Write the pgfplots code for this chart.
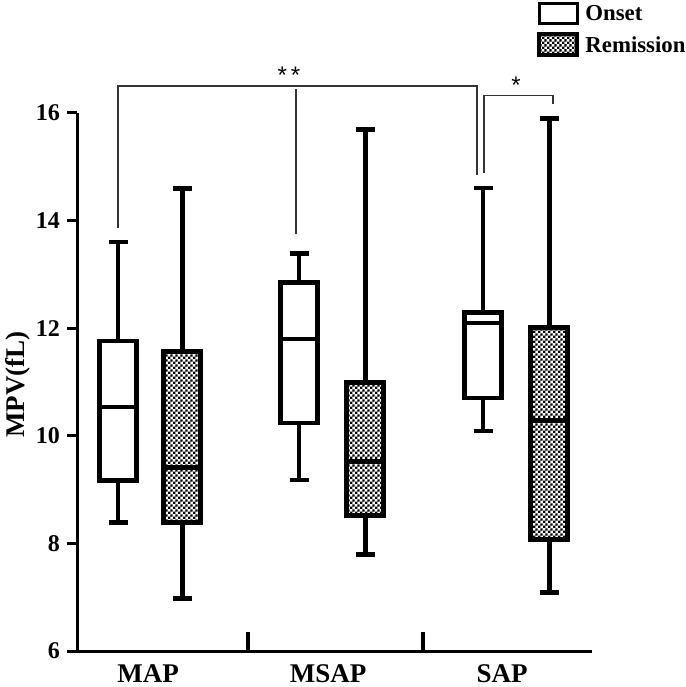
\documentclass[border=0pt]{standalone}
\usepackage{fontspec}
\setmainfont{Liberation Serif}
\newfontfamily\sansf{Liberation Sans}
\usepackage{pgfplots}
\pgfplotsset{compat=1.18}
\usepgfplotslibrary{statistics}
\usetikzlibrary{patterns}
\pgfdeclarepatternformonly{checker}{\pgfqpoint{0pt}{0pt}}{\pgfqpoint{2.4pt}{2.4pt}}{\pgfqpoint{2.4pt}{2.4pt}}{%
  \pgfpathrectangle{\pgfqpoint{0pt}{0pt}}{\pgfqpoint{1.2pt}{1.2pt}}%
  \pgfpathrectangle{\pgfqpoint{1.2pt}{1.2pt}}{\pgfqpoint{1.2pt}{1.2pt}}%
  \pgfusepath{fill}}
\pgfplotsset{
  onset/.style={solid, draw=black, line width=2.1pt, fill=white, mark=none, line cap=butt},
  remis/.style={solid, draw=black, line width=2.5pt, pattern=checker, mark=none, line cap=butt},
}
\begin{document}
\begin{tikzpicture}
\begin{axis}[
  scale only axis, width=257.5pt, height=269pt,
  xmin=77, xmax=592, ymin=6, ymax=16,
  axis x line=bottom, axis y line=left,
  axis line style={-, line width=1.5pt},
  clip=false,
  ytick={6,8,10,12,14,16},
  tick align=outside, major tick length=5pt,
  y tick style={line width=1.5pt, black},
  xtick={148,328,502}, xticklabels={MAP,MSAP,SAP},
  x tick style={draw=none},
  xticklabel style={font=\fontsize{13.5}{16}\selectfont\bfseries, yshift=1.5pt},
  yticklabel style={font=\fontsize{12}{14}\selectfont\bfseries},
  /pgf/number format/assume math mode=true,
  ylabel={MPV(fL)},
  ylabel style={font=\fontsize{13.5}{16}\selectfont\bfseries, at={(axis description cs:-0.115,0.495)}, anchor=center},
  boxplot/draw direction=y,
  boxplot/box extend=37,
  boxplot/whisker extend=19,
]
% MAP
\addplot[onset, boxplot prepared={draw position=118, lower whisker=8.39, lower quartile=9.17, median=10.53, upper quartile=11.76, upper whisker=13.60}] coordinates {};
\addplot[remis, boxplot prepared={draw position=182, lower whisker=6.98, lower quartile=8.39, median=9.41, upper quartile=11.56, upper whisker=14.59}] coordinates {};
% MSAP
\addplot[onset, boxplot prepared={draw position=299, lower whisker=9.18, lower quartile=10.24, median=11.80, upper quartile=12.85, upper whisker=13.39}] coordinates {};
\addplot[remis, boxplot prepared={draw position=365, lower whisker=7.79, lower quartile=8.51, median=9.53, upper quartile=10.99, upper whisker=15.70}] coordinates {};
% SAP
\addplot[onset, boxplot prepared={draw position=483, lower whisker=10.09, lower quartile=10.70, median=12.10, upper quartile=12.29, upper whisker=14.60}] coordinates {};
\addplot[remis, boxplot prepared={draw position=549, lower whisker=7.08, lower quartile=8.08, median=10.29, upper quartile=12.01, upper whisker=15.90}] coordinates {};

% group separator ticks
\draw[line width=2pt] (axis cs:248,6) -- (axis cs:248,6.35);
\draw[line width=2pt] (axis cs:423,6) -- (axis cs:423,6.35);

% significance brackets
\draw[line width=0.6pt, black!80] (axis cs:118,13.86) -- (axis cs:118,16.50) -- (axis cs:477,16.50) -- (axis cs:477,14.85);
\draw[line width=0.6pt, black!80] (axis cs:296,16.44) -- (axis cs:296,13.75);
\node[anchor=south, inner sep=1pt, font=\sansf\fontsize{12}{14}\selectfont] at (axis cs:289,16.50) {*\,*};
\draw[line width=0.6pt, black!80] (axis cs:484,14.88) -- (axis cs:484,16.32) -- (axis cs:553,16.32) -- (axis cs:553,16.16);
\node[anchor=south, inner sep=1pt, font=\sansf\fontsize{12}{14}\selectfont] at (axis cs:516,16.32) {*};

% legend
\draw[line width=1.5pt, fill=white] (axis cs:539,18.04) rectangle (axis cs:577,17.66);
\draw[line width=2pt, pattern=checker] (axis cs:539,17.46) rectangle (axis cs:577,17.08);
\node[anchor=west, inner sep=0pt, font=\fontsize{11.4}{13}\selectfont\bfseries] at (axis cs:585,17.86) {Onset};
\node[anchor=west, inner sep=0pt, font=\fontsize{11.4}{13}\selectfont\bfseries] at (axis cs:585,17.26) {Remission};

\coordinate (bl) at (axis cs:0,5.331);
\coordinate (tr) at (axis cs:685,18.10);
\end{axis}
\pgfresetboundingbox
\useasboundingbox (bl) rectangle (tr);
\end{tikzpicture}
\end{document}
